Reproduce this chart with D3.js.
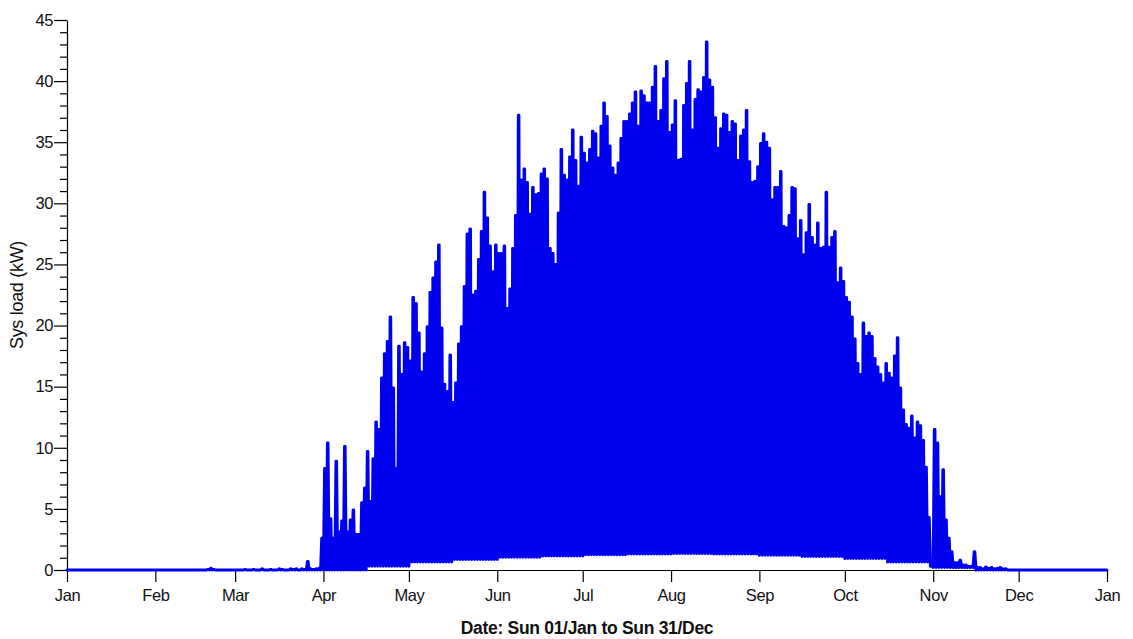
<!DOCTYPE html>
<html>
<head>
<meta charset="utf-8">
<script src="https://cdn.jsdelivr.net/npm/d3@7"></script>
<style>
  body { margin: 0; background: #fff; }
  svg { display: block; font-family: "Liberation Sans", Arial, sans-serif; }
</style>
</head>
<body>
<script>
// daily peak of the system load (kW), one value per day
var peakJan = [0,0,0,0,0,0,0,0,0,0,0,0,0,0,0,0,0,0,0,0,0,0,0,0,0,0,0,0,0,0,0];
var peakFeb = [0,0,0,0,0,0,0,0,0,0,0,0,0,0,0,0,0,0,0.05,0.15,0.05,0,0,0,0,0,0,0];
var peakMar = [0,0,0,0.05,0,0,0.05,0,0,0.1,0,0,0.05,0,0,0.1,0.05,0,0,0.1,0.05,0.1,0,0.1,0.05,0.7,0.1,0.05,0.1,0.15,2.6];
var peakApr = [8.3,10.4,4.2,2.6,8.9,3.1,4.0,10.1,3.1,4.1,4.9,2.9,2.9,5.5,6.7,9.7,5.6,9.1,12.1,11.5,15.7,17.7,18.7,20.7,14.9,8.3,18.3,16.0,18.6,18.2];
var peakMay = [17.1,22.3,21.8,19.4,16.2,17.7,19.9,22.7,23.9,25.2,26.6,19.8,15.2,14.6,17.6,13.7,15.3,18.5,19.9,23.2,27.5,27.9,22.5,22.8,25.4,27.7,30.9,28.8,26.5,24.4,26.6];
var peakJun = [25.9,25.9,26.5,21.4,23.0,26.3,29.0,37.2,31.9,32.8,31.7,29.1,31.3,30.7,30.8,32.4,32.8,32.0,26.3,25.9,25.0,29.2,34.4,32.3,31.9,33.8,36.0,33.5,31.4,35.4];
var peakJul = [34.1,33.3,34.4,35.9,35.7,33.7,36.3,38.2,37.1,34.7,32.9,32.3,33.3,35.3,36.7,36.7,37.3,38.2,39.1,36.3,39.2,38.8,38.2,38.2,39.5,41.2,36.7,37.6,40.2,41.6,35.8];
var peakAug = [36.4,38.4,33.5,33.6,38.0,39.8,41.6,36.0,38.5,39.3,39.1,40.3,43.2,40.1,39.5,37.0,34.5,36.1,37.3,37.2,35.8,36.7,36.5,33.5,35.5,36.0,37.6,33.4,31.7,31.8,33.0];
var peakSep = [34.9,35.7,35.0,34.5,30.3,31.3,31.3,32.6,28.1,28.0,29.0,31.3,31.2,27.1,28.6,25.8,27.6,29.9,27.2,26.6,28.4,26.3,26.4,30.9,26.4,27.2,27.7,23.5,24.7,23.6];
var peakOct = [22.3,21.9,20.7,18.9,16.9,16.0,20.2,19.1,19.4,19.1,17.3,16.6,16.0,15.3,16.9,16.1,15.7,17.5,19.0,14.9,13.1,11.9,11.6,12.6,10.8,12.1,11.8,10.6,8.4,4.3,0.3];
var peakNov = [11.5,10.4,6.0,8.2,4.1,2.6,1.5,0.6,0.6,0.8,0.4,0.4,0.3,0.3,1.5,0.2,0.2,0.1,0.25,0.15,0.2,0.1,0.15,0.2,0.1,0.1,0,0,0,0];
var peakDec = [0,0,0,0,0,0,0,0,0,0,0,0,0,0,0,0,0,0,0,0,0,0,0,0,0,0,0,0,0,0,0];

// night-time load (kW) for each half month (1st-15th, 16th-end)
var nightBase = [0,0, 0,0, 0,0, 0,0.3, 0.65,0.85, 1.05,1.15, 1.25,1.3, 1.35,1.3, 1.2,1.1, 0.95,0.65, 0.2,0, 0,0];

var yTicks = [0,5,10,15,20,25,30,35,40,45];
var xTitle = "Date: Sun 01/Jan to Sun 31/Dec";
var yTitle = "Sys load (kW)";

var width = 1133, height = 639;
var plotLeft = 67, plotRight = 1107, plotTop = 20, plotBottom = 570;
var dayMs = 864e5;
var t0 = Date.UTC(2017, 0, 1);

var svg = d3.select("body").append("svg")
  .attr("width", width)
  .attr("height", height);

var x = d3.scaleUtc()
  .domain([new Date(t0), new Date(Date.UTC(2018, 0, 1))])
  .range([plotLeft, plotRight]);

var y = d3.scaleLinear()
  .domain([0, 45])
  .range([plotBottom, plotTop]);

// minor y ticks every 1 kW
svg.append("g")
  .attr("transform", "translate(" + plotLeft + ",0)")
  .call(d3.axisLeft(y).tickValues(d3.range(0, 46).filter(function(v) { return v % 5 != 0; }))
    .tickSize(7).tickFormat(""))
  .call(function(g) { g.select(".domain").remove(); });

// major y ticks
svg.append("g")
  .attr("class", "yaxis")
  .attr("transform", "translate(" + plotLeft + ",0)")
  .call(d3.axisLeft(y).tickValues(yTicks).tickSize(13).tickSizeOuter(0).tickPadding(1));

// x axis, one tick per month
svg.append("g")
  .attr("class", "xaxis")
  .attr("transform", "translate(0," + plotBottom + ")")
  .call(d3.axisBottom(x).ticks(d3.utcMonth.every(1)).tickFormat(d3.utcFormat("%b"))
    .tickSize(12).tickSizeOuter(0).tickPadding(7));

svg.selectAll(".tick line, .domain").attr("stroke", "#000").attr("stroke-width", 1.2);
svg.selectAll(".tick text").attr("font-size", 16.5).attr("fill", "#111")
  .attr("letter-spacing", -0.4)
  .attr("font-family", "Liberation Sans, Arial, sans-serif");

// build the daily cycle: night base -> daytime peak -> night base
var peaks = [].concat(peakJan, peakFeb, peakMar, peakApr, peakMay, peakJun,
  peakJul, peakAug, peakSep, peakOct, peakNov, peakDec);

var pts = [];
peaks.forEach(function(p, d) {
  var date = new Date(t0 + d * dayMs);
  var half = date.getUTCMonth() * 2 + (date.getUTCDate() > 15 ? 1 : 0);
  var b = Math.min(nightBase[half], p);
  pts.push([d, b], [d + 0.4, p], [d + 0.6, p], [d + 1, b]);
});

var line = d3.line()
  .x(function(q) { return x(new Date(t0 + q[0] * dayMs)); })
  .y(function(q) { return y(q[1]); });

svg.append("path")
  .datum(pts)
  .attr("d", line)
  .attr("fill", "none")
  .attr("stroke", "#0000f0")
  .attr("stroke-width", 3)
  .attr("stroke-linejoin", "round")
  .attr("stroke-linecap", "round");

// titles
svg.append("text")
  .attr("x", (plotLeft + plotRight) / 2)
  .attr("y", 634)
  .attr("text-anchor", "middle")
  .attr("font-size", 17.5)
  .attr("font-weight", "bold")
  .attr("letter-spacing", -0.3)
  .attr("fill", "#111")
  .text(xTitle);

svg.append("text")
  .attr("transform", "translate(23," + ((plotTop + plotBottom) / 2) + ") rotate(-90)")
  .attr("text-anchor", "middle")
  .attr("font-size", 18)
  .attr("letter-spacing", -0.3)
  .attr("fill", "#111")
  .text(yTitle);
</script>
</body>
</html>
